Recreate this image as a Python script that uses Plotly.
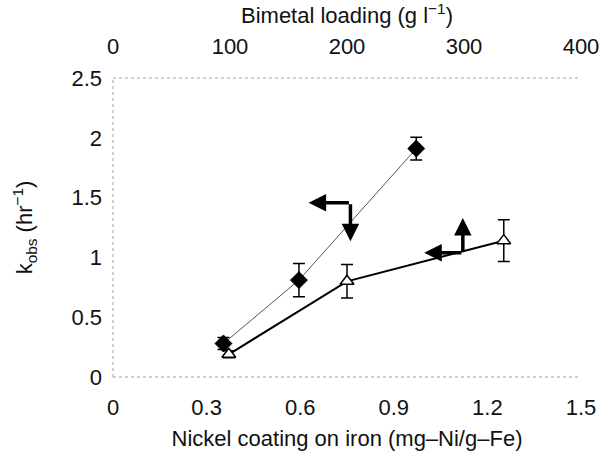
import plotly.graph_objects as go

# Series 1 (diamonds): bottom axis, nickel coating
nickel = [0.354, 0.596, 0.972]
k_nickel = [0.28, 0.81, 1.91]
err_nickel = [0.05, 0.14, 0.095]

# Series 2 (triangles): top axis, bimetal loading
loading = [99, 200, 334]
k_loading = [0.19, 0.80, 1.14]
err_loading = [0.03, 0.14, 0.175]

bottom_ticks = [0, 0.3, 0.6, 0.9, 1.2, 1.5]
bottom_labels = ["0", "0.3", "0.6", "0.9", "1.2", "1.5"]
top_ticks = [0, 100, 200, 300, 400]
y_ticks = [0, 0.5, 1, 1.5, 2, 2.5]
y_labels = ["0", "0.5", "1", "1.5", "2", "2.5"]

FONT = "Liberation Sans, Arial, sans-serif"
FS = 22

fig = go.Figure()
fig.add_trace(go.Scatter(
    x=nickel, y=k_nickel, mode="lines+markers", xaxis="x", yaxis="y",
    line=dict(color="#555555", width=1),
    marker=dict(symbol="diamond", size=13, color="black", line=dict(color="black", width=1)),
    error_y=dict(type="data", array=err_nickel, color="black", thickness=1.5, width=6),
    showlegend=False,
))
fig.add_trace(go.Scatter(
    x=loading, y=k_loading, mode="lines+markers", xaxis="x2", yaxis="y",
    line=dict(color="black", width=2),
    marker=dict(symbol="triangle-up", size=12, color="white", line=dict(color="black", width=1.5)),
    error_y=dict(type="data", array=err_loading, color="black", thickness=1.5, width=6),
    showlegend=False,
))

arrow_common = dict(text="", showarrow=True, arrowhead=2, arrowwidth=3.5,
                    arrowsize=1.0, arrowcolor="black", standoff=0, startstandoff=0)
# arrow for diamonds: points left (y-axis) and down (bottom axis)
c1 = (0.761, 1.457)
fig.add_annotation(x=0.627, y=c1[1], ax=c1[0], ay=c1[1], xref="x", yref="y",
                   axref="x", ayref="y", **arrow_common)
fig.add_annotation(x=c1[0], y=1.134, ax=c1[0], ay=c1[1], xref="x", yref="y",
                   axref="x", ayref="y", **arrow_common)
# arrow for triangles: points left (y-axis) and up (top axis)
c2 = (299, 1.039)
fig.add_annotation(x=266, y=c2[1], ax=c2[0], ay=c2[1], xref="x2", yref="y",
                   axref="x2", ayref="y", **arrow_common)
fig.add_annotation(x=c2[0], y=1.33, ax=c2[0], ay=c2[1], xref="x2", yref="y",
                   axref="x2", ayref="y", **arrow_common)

# dotted frame lines (left, bottom, top)
for x0, y0, x1, y1 in [(0, 0, 0, 1), (0, 0, 1, 0), (0, 1, 1, 1)]:
    fig.add_shape(type="line", xref="paper", yref="paper", x0=x0, y0=y0, x1=x1, y1=y1,
                  line=dict(color="#a0a0a0", width=1, dash="dot"))

fig.update_layout(
    width=611, height=458,
    margin=dict(l=113, r=23, t=78, b=78),
    paper_bgcolor="white", plot_bgcolor="white",
    font=dict(family=FONT, size=FS, color="#111111"),
    xaxis=dict(range=[0, 1.5], tickvals=bottom_ticks, ticktext=bottom_labels,
               showgrid=False, zeroline=False, showline=False, ticks="",
               ticklabelstandoff=15,
               title=dict(text="Nickel coating on iron (mg\u2013Ni/g\u2013Fe)",
                          font=dict(size=FS), standoff=11)),
    xaxis2=dict(range=[0, 400], tickvals=top_ticks, overlaying="x", side="top",
                showgrid=False, zeroline=False, showline=False, ticks="",
                ticklabelstandoff=19,
                title=dict(text="Bimetal loading (g l<sup>\u22121</sup>)",
                           font=dict(size=FS), standoff=4)),
    yaxis=dict(range=[0, 2.5], tickvals=y_ticks, ticktext=y_labels,
               showgrid=False, zeroline=False, showline=False, ticks="",
               ticklabelstandoff=10,
               title=dict(text="k<sub>obs</sub> (hr<sup>\u22121</sup>)",
                          font=dict(size=FS), standoff=32)),
)

fig.write_html("out.html")
